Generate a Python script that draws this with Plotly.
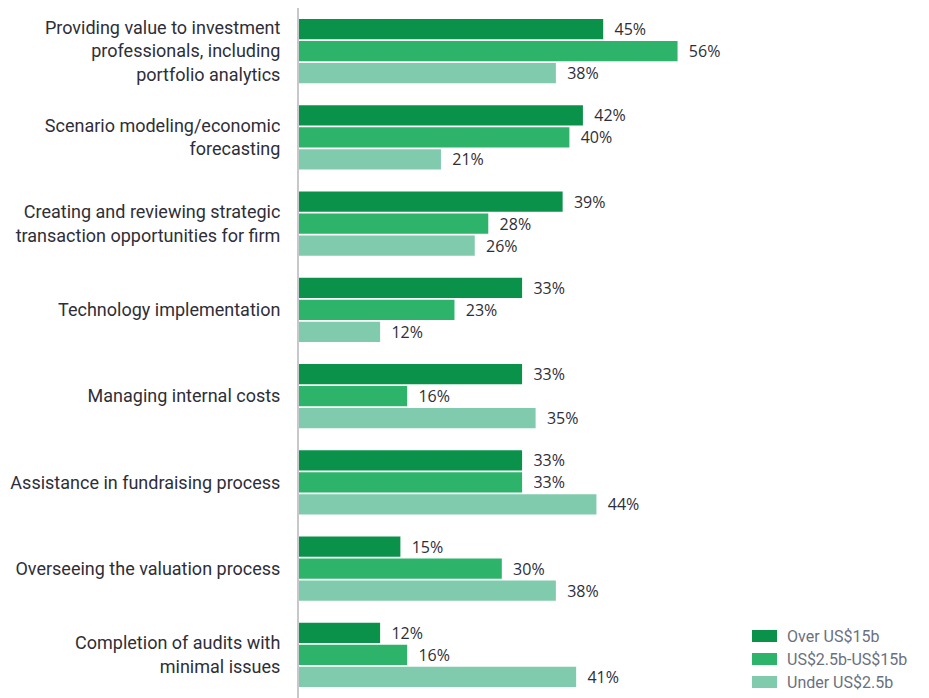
import plotly.graph_objects as go

categories = [
    "Providing value to investment<br>professionals, including<br>portfolio analytics",
    "Scenario modeling/economic<br>forecasting",
    "Creating and reviewing strategic<br>transaction opportunities for firm",
    "Technology implementation",
    "Managing internal costs",
    "Assistance in fundraising process",
    "Overseeing the valuation process",
    "Completion of audits with<br>minimal issues",
]
series_names = ["Over US$15b", "US$2.5b-US$15b", "Under US$2.5b"]
over_15b = [45, 42, 39, 33, 33, 33, 15, 12]
mid_range = [56, 40, 28, 23, 16, 33, 30, 16]
under_2_5b = [38, 21, 26, 12, 35, 44, 38, 41]
colors = ["#0b924a", "#2db46a", "#80cbad"]

label_font = "Roboto, sans-serif"
value_font = "Open Sans, sans-serif"
text_color = "#2e2e38"

# page has an 8px body margin, so the figure is sized to fit the 929x698 window
W, H = 921, 690
ML = 291
PW = W - ML

fig = go.Figure()
for name, vals, col in zip(series_names, [over_15b, mid_range, under_2_5b], colors):
    fig.add_trace(go.Bar(
        y=categories,
        x=vals,
        name=name,
        orientation="h",
        marker=dict(color=col, line=dict(width=0)),
        text=[f"  {v}%" for v in vals],
        textposition="outside",
        constraintext="none",
        textfont=dict(size=16, color=text_color, family=value_font),
        cliponaxis=False,
        showlegend=False,
    ))

# custom legend with wide swatches, as in the original
legend_y = [628, 651, 674]  # figure-pixel centres of the legend rows
for name, col, yy in zip(series_names, colors, legend_y):
    fig.add_shape(type="rect", xref="paper", yref="paper",
                  x0=(744 - ML) / PW, x1=(769 - ML) / PW,
                  y0=(H - yy - 6) / H, y1=(H - yy + 6) / H,
                  fillcolor=col, line=dict(width=0))
    fig.add_annotation(text=name, xref="paper", yref="paper",
                       x=(777 - ML) / PW, y=(H - yy) / H,
                       xanchor="left", yanchor="middle", showarrow=False,
                       font=dict(size=16, color="#6b7080", family=label_font))

fig.update_layout(
    width=W, height=H,
    margin=dict(l=ML, r=0, t=0, b=0),
    barmode="group",
    bargap=0.235,
    bargroupgap=0.09,
    plot_bgcolor="white",
    paper_bgcolor="white",
    font=dict(family=label_font, color=text_color),
    xaxis=dict(range=[0, PW / 6.76], visible=False, fixedrange=True),
    yaxis=dict(
        autorange="reversed",
        showline=True, linecolor="#c8c8cc", linewidth=2,
        showgrid=False, zeroline=False,
        ticks="outside", ticklen=13, tickcolor="rgba(0,0,0,0)",
        tickfont=dict(size=18, color=text_color, family=label_font),
    ),
)

fig.write_html("out.html")
